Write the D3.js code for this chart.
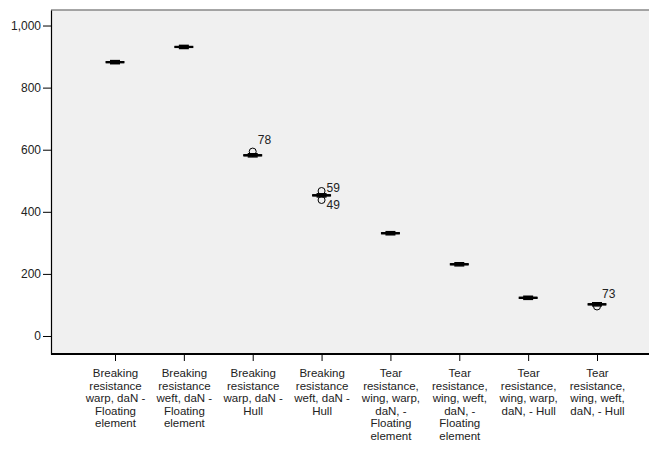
<!DOCTYPE html>
<html>
<head>
<meta charset="utf-8">
<script src="https://cdn.jsdelivr.net/npm/d3@7"></script>
<style>
  body { margin: 0; background: #fff; }
  text { font-family: "Liberation Sans", Arial, sans-serif; fill: #222; }
</style>
</head>
<body>
<div id="plot"></div>
<script>
// category labels, one array of lines per box
var categories = [
  ["Breaking", "resistance", "warp, daN -", "Floating", "element"],
  ["Breaking", "resistance", "weft, daN -", "Floating", "element"],
  ["Breaking", "resistance", "warp, daN -", "Hull"],
  ["Breaking", "resistance", "weft, daN -", "Hull"],
  ["Tear", "resistance,", "wing, warp,", "daN, -", "Floating", "element"],
  ["Tear", "resistance,", "wing, weft,", "daN, -", "Floating", "element"],
  ["Tear", "resistance,", "wing, warp,", "daN, - Hull"],
  ["Tear", "resistance,", "wing, weft,", "daN, - Hull"]
];

// box statistics
var mins    = [877, 926, 577, 448, 326, 226, 118,  97];
var q1s     = [880, 929, 580, 451, 329, 229, 121, 100];
var medians = [882, 931, 582, 453, 331, 231, 123, 102];
var q3s     = [884, 933, 584, 455, 333, 233, 125, 104];
var maxs    = [887, 936, 587, 458, 336, 236, 128, 107];

// outliers: category index, value, case label
var outliers = [
  {cat: 2, value: 594, label: "78"},
  {cat: 3, value: 467, label: "59"},
  {cat: 3, value: 438, label: "49"},
  {cat: 7, value: 95,  label: "73"}
];

var yTicks = [0, 200, 400, 600, 800, 1000];

var W = 649, H = 449;
var margin = {top: 10, right: 0, bottom: 95, left: 51};
var plotW = W - margin.left - margin.right,
    plotH = H - margin.top - margin.bottom;

var svg = d3.select("#plot").append("svg")
    .attr("width", W)
    .attr("height", H);

var g = svg.append("g")
    .attr("transform", "translate(" + margin.left + "," + margin.top + ")");

// plot background
g.append("rect")
  .attr("width", plotW + 10)
  .attr("height", plotH)
  .attr("fill", "#f0f0f0");

g.append("line")
  .attr("x1", 0).attr("x2", plotW + 10)
  .attr("y1", 0).attr("y2", 0)
  .attr("stroke", "#888").attr("stroke-width", 1.5);

var idx = d3.range(categories.length);
var x = d3.scalePoint()
  .domain(idx)
  .range([64, plotW - 52]);

var y = d3.scaleLinear()
  .domain([-58, 1050])
  .range([plotH, 0]);

// y axis
var yAxis = g.append("g")
  .call(d3.axisLeft(y).tickValues(yTicks).tickFormat(d3.format(","))
    .tickSize(8).tickSizeOuter(0).tickPadding(2));
yAxis.select(".domain").attr("stroke", "#000").attr("stroke-width", 1.2);
yAxis.selectAll(".tick line").attr("stroke", "#000");
yAxis.selectAll(".tick text").attr("font-size", 12).attr("fill", "#222")
  .attr("font-family", "Liberation Sans, Arial, sans-serif");

// x axis
var xAxis = g.append("g")
  .attr("transform", "translate(0," + plotH + ")")
  .call(d3.axisBottom(x).tickSize(7).tickSizeOuter(0).tickFormat(""));
xAxis.select(".domain").attr("stroke", "#000").attr("stroke-width", 2)
  .attr("d", "M0,0H" + (plotW + 10));
xAxis.selectAll(".tick line").attr("stroke", "#000");

// wrapped category labels
xAxis.selectAll(".tick").each(function(d) {
  var t = d3.select(this).append("text")
    .attr("text-anchor", "middle")
    .attr("font-size", 11.5)
    .attr("fill", "#222");
  categories[d].forEach(function(line, i) {
    t.append("tspan")
      .attr("x", 0)
      .attr("y", 23 + i * 12.5)
      .text(line);
  });
});

// boxes
var boxW = 18, capW = 10;
var boxes = g.selectAll(".box").data(idx).enter().append("g").attr("class", "box");

boxes.append("line")
  .attr("x1", function(d) { return x(d); })
  .attr("x2", function(d) { return x(d); })
  .attr("y1", function(d) { return y(maxs[d]); })
  .attr("y2", function(d) { return y(mins[d]); })
  .attr("stroke", "#000");

boxes.append("rect")
  .attr("x", function(d) { return x(d) - boxW / 2; })
  .attr("y", function(d) { return y(q3s[d]); })
  .attr("width", boxW)
  .attr("height", function(d) { return y(q1s[d]) - y(q3s[d]); })
  .attr("fill", "#000")
  .attr("stroke", "#000")
  .attr("stroke-width", 1);

boxes.append("line")
  .attr("x1", function(d) { return x(d) - boxW / 2; })
  .attr("x2", function(d) { return x(d) + boxW / 2; })
  .attr("y1", function(d) { return y(medians[d]); })
  .attr("y2", function(d) { return y(medians[d]); })
  .attr("stroke", "#000").attr("stroke-width", 2);

[mins, maxs].forEach(function(arr) {
  boxes.append("line")
    .attr("x1", function(d) { return x(d) - capW / 2; })
    .attr("x2", function(d) { return x(d) + capW / 2; })
    .attr("y1", function(d) { return y(arr[d]); })
    .attr("y2", function(d) { return y(arr[d]); })
    .attr("stroke", "#000").attr("stroke-width", 1.5);
});

// outliers
g.selectAll(".outlier").data(outliers).enter().append("circle")
  .attr("class", "outlier")
  .attr("cx", function(d) { return x(d.cat); })
  .attr("cy", function(d) { return y(d.value); })
  .attr("r", 3.5)
  .attr("fill", "none")
  .attr("stroke", "#000")
  .attr("stroke-width", 1);

// case labels: above-right, or spread apart when two share a box
g.selectAll(".olabel").data(outliers).enter().append("text")
  .attr("class", "olabel")
  .attr("font-size", 12)
  .attr("fill", "#222")
  .attr("x", function(d) { return x(d.cat) + 5; })
  .attr("y", function(d) {
    var same = outliers.filter(function(o) { return o.cat === d.cat; });
    if (same.length === 1) return y(d.value) - 8;
    var top = d3.max(same, function(o) { return o.value; });
    return d.value === top ? y(d.value) + 1 : y(d.value) + 9;
  })
  .text(function(d) { return d.label; });
</script>
</body>
</html>
